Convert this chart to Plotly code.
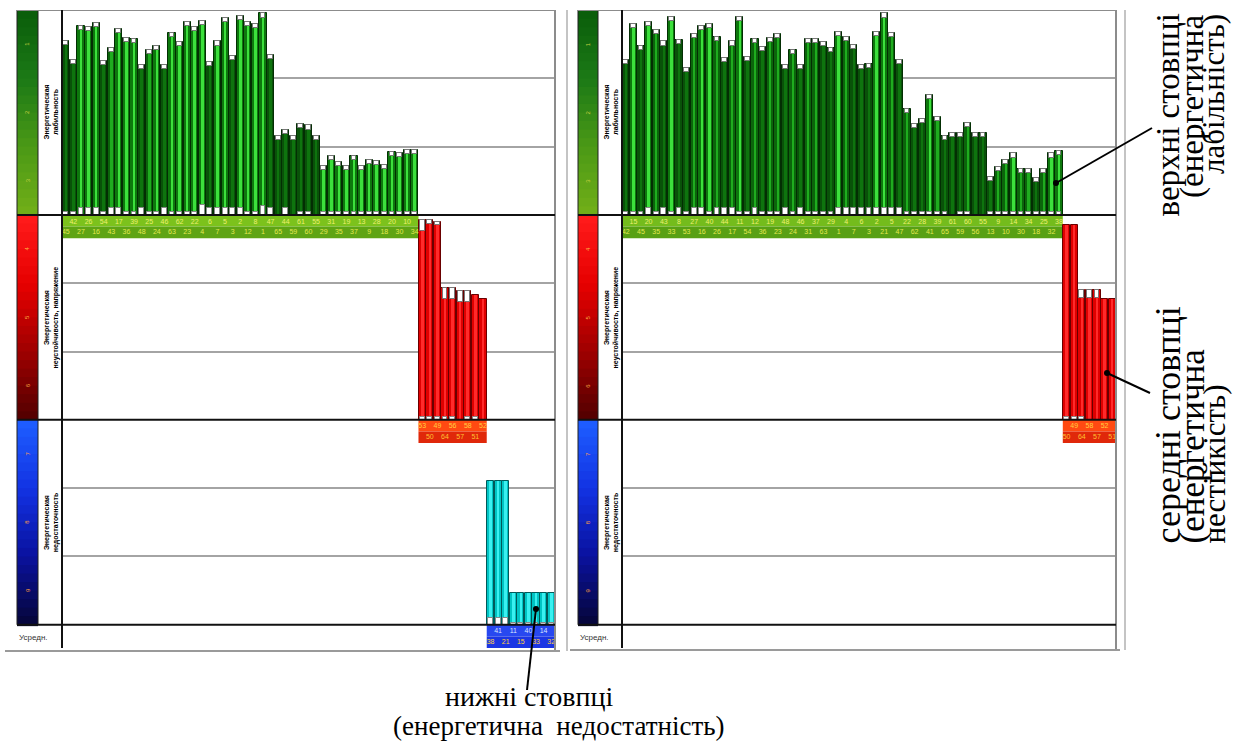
import plotly.graph_objects as go

W, H = 1233, 744

# ------------------------------------------------------------------ data
# left panel: bar heights (units, 0..3 inside each band)
left_green = [2.55, 2.27, 2.77, 2.75, 2.81, 2.26, 2.45, 2.72, 2.59, 2.58,
              2.20, 2.42, 2.47, 2.20, 2.66, 2.53, 2.82, 2.75, 2.84, 2.24,
              2.54, 2.89, 2.33, 2.91, 2.82, 2.79, 2.95, 2.34, 1.16, 1.24,
              1.15, 1.33, 1.31, 1.16, 0.72, 0.86, 0.77, 0.72, 0.86, 0.72,
              0.81, 0.79, 0.73, 0.92, 0.91, 0.95, 0.95]
left_green_tone = [0, 0, 2, 2, 2, 0, 1, 2, 2, 2, 0, 1, 2, 0, 2, 2, 2, 2, 2, 0,
                   2, 2, 0, 2, 2, 2, 2, 0, 0, 0, 0, 0, 0, 0, 2, 2, 2, 2, 2, 2,
                   2, 2, 2, 2, 2, 2, 2]
left_green_low = [0.04, 0.04, 0.10, 0.10, 0.10, 0.04, 0.10, 0.10, 0.04, 0.04,
                  0.10, 0.04, 0.04, 0.10, 0.04, 0.04, 0.04, 0.04, 0.14, 0.10,
                  0.10, 0.10, 0.10, 0.10, 0.04, 0.04, 0.13, 0.10, 0.00, 0.10,
                  0.00, 0.04, 0.04, 0.00, 0.04, 0.04, 0.04, 0.04, 0.04, 0.04,
                  0.04, 0.04, 0.04, 0.04, 0.04, 0.04, 0.04]
left_red = [2.92, 2.92, 2.90, 1.93, 1.93, 1.88, 1.88, 1.83, 1.77]
left_red_cap = [0.16, 0.05, 0.05, 0.16, 0.16, 0.15, 0.15, 0.0, 0.0]
left_red_low = [0.04, 0.04, 0.04, 0.04, 0.04, 0.0, 0.04, 0.04, 0.0]
left_blue = [2.10, 2.10, 2.10, 0.47, 0.47, 0.47, 0.47, 0.47, 0.47]
left_blue_low = [0.10, 0.10, 0.10, 0.03, 0.03, 0.03, 0.03, 0.03, 0.03]
left_ids = [45, 42, 27, 26, 16, 54, 43, 17, 36, 39, 48, 25, 24, 46, 63, 62,
            23, 22, 4, 6, 7, 5, 3, 2, 12, 8, 1, 47, 65, 44, 59, 61, 60, 55,
            29, 31, 35, 19, 37, 13, 9, 28, 18, 20, 30, 10, 34,
            53, 50, 49, 64, 56, 57, 58, 51, 52,
            38, 41, 21, 11, 15, 40, 33, 14, 32]

# right panel
right_green = [2.27, 2.80, 2.48, 2.83, 2.71, 2.54, 2.90, 2.56, 2.15, 2.65,
               2.76, 2.80, 2.60, 2.30, 2.54, 2.90, 2.31, 2.57, 2.46, 2.59,
               2.65, 2.20, 2.42, 2.20, 2.57, 2.57, 2.53, 2.45, 2.68, 2.60,
               2.49, 2.19, 2.21, 2.68, 2.95, 2.66, 2.27, 1.55, 1.33, 1.40,
               1.76, 1.44, 1.15, 1.20, 1.20, 1.35, 1.20, 1.20, 0.55, 0.70,
               0.81, 0.90, 0.67, 0.67, 0.54, 0.67, 0.90, 0.94]
right_green_tone = [0, 2, 0, 2, 1, 0, 2, 0, 0, 1, 2, 2, 1, 0, 1, 2, 0, 1, 0, 1,
                    1, 0, 1, 0, 1, 1, 0, 0, 2, 1, 0, 0, 0, 2, 2, 1, 0, 1, 0, 0,
                    2, 1, 0, 0, 0, 1, 0, 0, 0, 1, 1, 2, 1, 1, 0, 1, 2, 2]
right_green_low = [0.04, 0.04, 0.04, 0.10, 0.04, 0.10, 0.04, 0.10, 0.04, 0.10,
                   0.10, 0.04, 0.10, 0.10, 0.10, 0.04, 0.04, 0.10, 0.04, 0.04,
                   0.04, 0.10, 0.04, 0.10, 0.04, 0.04, 0.04, 0.04, 0.10, 0.10,
                   0.10, 0.10, 0.10, 0.10, 0.10, 0.10, 0.10, 0.04, 0.04, 0.04,
                   0.04, 0.04, 0.04, 0.00, 0.04, 0.04, 0.00, 0.00, 0.04, 0.04,
                   0.04, 0.04, 0.04, 0.04, 0.04, 0.04, 0.04, 0.04]
right_red = [2.85, 2.85, 1.90, 1.90, 1.90, 1.77, 1.77]
right_red_cap = [0.0, 0.0, 0.12, 0.12, 0.12, 0.0, 0.0]
right_red_low = [0.04, 0.04, 0.04, 0.0, 0.0, 0.0, 0.0]
right_ids = [42, 15, 45, 20, 35, 43, 33, 8, 53, 27, 16, 40, 26, 44, 17, 11,
             54, 12, 36, 19, 23, 48, 24, 46, 31, 37, 63, 29, 1, 4, 7, 6, 3, 2,
             21, 5, 47, 22, 62, 28, 41, 39, 65, 61, 59, 60, 56, 55, 13, 9, 10,
             14, 30, 34, 18, 25, 32, 38,
             50, 49, 64, 58, 57, 52, 51]

band_titles = ["Энергетическая<br>лабильность",
               "Энергетическая<br>неустойчивость, напряжение",
               "Энергетическая<br>недостаточность"]
band_marks = [["1", "2", "3"], ["4", "5", "6"], ["7", "8", "9"]]
avg_label = "Усредн."
note_top = ["верхні стовпці", "(енергетична", "лабільність)"]
note_mid = ["середні стовпці", "(енергетична", "нестійкість)"]
note_bottom = ["нижні стовпці", "(енергетична  недостатність)"]

# ------------------------------------------------------------------ helpers
def hx(h):
    h = h.lstrip('#')
    return tuple(int(h[i:i + 2], 16) for i in (0, 2, 4))


def mix(c1, c2, t):
    a, b = hx(c1), hx(c2)
    return 'rgb(%d,%d,%d)' % tuple(round(a[i] + (b[i] - a[i]) * t) for i in range(3))


def grad(stops, t):
    n = len(stops) - 1
    i = min(int(t * n), n - 1)
    return mix(stops[i], stops[i + 1], t * n - i)


def px(x):
    return x / W


def py(y):
    return 1 - y / H


GREEN_BODY = ["#095209", "#0b650b", "#0d780d"]
GREEN_STRIPE = ["#0e740e", "#1fac1f", "#3ce03c"]
GREEN_EDGE = "#032e03"
CAP = 0.06

fig = go.Figure()


def add_group(xa, ya, xs, vals, base, body, edge, stripe, caps, lows):
    common = dict(xaxis=xa, yaxis=ya, hoverinfo='skip', showlegend=False)
    fig.add_trace(go.Bar(x=xs, y=vals, base=base, width=0.94,
                         marker=dict(color=body, line=dict(color=edge, width=1)),
                         **common))
    fig.add_trace(go.Bar(x=xs, y=[v - c for v, c in zip(vals, caps)], base=base,
                         width=0.34, marker=dict(color=stripe, line=dict(width=0)),
                         **common))
    cx = [x for x, c in zip(xs, caps) if c > 0]
    cy = [c for c in caps if c > 0]
    cb = [base + v - c for v, c in zip(vals, caps) if c > 0]
    if cx:
        fig.add_trace(go.Bar(x=cx, y=cy, base=cb, width=0.64,
                             marker=dict(color='white', line=dict(color='#777777', width=1)),
                             **common))
    lx = [x for x, c in zip(xs, lows) if c > 0]
    ly = [c for c in lows if c > 0]
    if lx:
        fig.add_trace(go.Bar(x=lx, y=ly, base=base, width=0.64,
                             marker=dict(color='white', line=dict(color='#888888', width=1)),
                             **common))


def add_labels(xa, ya, xs, ids, base, top_col, bot_col):
    ys, cols = [], []
    for x in xs:
        if x % 2 == 1:
            ys.append(base - 0.1)
            cols.append(top_col)
        else:
            ys.append(base - 0.25)
            cols.append(bot_col)
    fig.add_trace(go.Scatter(x=xs, y=ys, mode='text', text=[str(i) for i in ids],
                             textfont=dict(size=7, color=cols, family='Liberation Sans'),
                             xaxis=xa, yaxis=ya, hoverinfo='skip', showlegend=False,
                             cliponaxis=False))


shapes = []
annotations = []

# ------------------------------------------------------------------ left panel bars
n1 = len(left_green)
n2 = len(left_red)
xg = list(range(n1))
xr = list(range(n1, n1 + n2))
xb = list(range(n1 + n2, n1 + n2 + len(left_blue)))
add_group('x', 'y', xg, left_green, 6, [GREEN_BODY[t] for t in left_green_tone], GREEN_EDGE,
          [GREEN_STRIPE[t] for t in left_green_tone], [CAP] * n1, left_green_low)
add_group('x', 'y', xr, left_red, 3, '#e00000', '#6a0000', '#ff2a2a', left_red_cap, left_red_low)
add_group('x', 'y', xb, left_blue, 0, '#00c4c4', '#005a5a', '#3af0f0', [0] * len(left_blue), left_blue_low)

# right panel bars
m1 = len(right_green)
m2 = len(right_red)
xg2 = list(range(m1))
xr2 = list(range(m1, m1 + m2))
add_group('x2', 'y2', xg2, right_green, 6, [GREEN_BODY[t] for t in right_green_tone], GREEN_EDGE,
          [GREEN_STRIPE[t] for t in right_green_tone], [CAP] * m1, right_green_low)
add_group('x2', 'y2', xr2, right_red, 3, '#e00000', '#6a0000', '#ff2a2a', right_red_cap, right_red_low)


# label strips (data coordinates)
def strip(xref, yref, x0, x1, base, top_c, bot_c):
    shapes.append(dict(type='rect', xref=xref, yref=yref, x0=x0, x1=x1, y0=base - 0.17, y1=base,
                       fillcolor=top_c, line=dict(width=0), layer='between'))
    shapes.append(dict(type='rect', xref=xref, yref=yref, x0=x0, x1=x1, y0=base - 0.34, y1=base - 0.17,
                       fillcolor=bot_c, line=dict(width=0), layer='between'))


strip('x', 'y', -0.5, n1 - 0.5, 6, '#7cc21c', '#5fa414')
strip('x', 'y', n1 - 0.5, n1 + n2 - 0.5, 3, '#ff4a12', '#e0280a')
strip('x', 'y', n1 + n2 - 0.5, 64.5, 0, '#2848f0', '#1c36e4')
strip('x2', 'y2', -0.5, m1 - 0.5, 6, '#74bc1c', '#58a014')
strip('x2', 'y2', m1 - 0.5, 64.5, 3, '#ff4a12', '#e0280a')

add_labels('x', 'y', xg, left_ids[:n1], 6, '#eef070', '#e4e850')
add_labels('x', 'y', xr, left_ids[n1:n1 + n2], 3, '#ffd040', '#ffc030')
add_labels('x', 'y', xb, left_ids[n1 + n2:], 0, '#d8e4ff', '#ffd040')
add_labels('x2', 'y2', xg2, right_ids[:m1], 6, '#eef070', '#e4e850')
add_labels('x2', 'y2', xr2, right_ids[m1:], 3, '#ffd040', '#ffc030')

# ------------------------------------------------------------------ frames, strips, titles
band_stops = [["#0b5e0b", "#1c7a16", "#4a9816", "#70ae18"],
              ["#ff1a1a", "#e60000", "#a00000", "#560000"],
              ["#1e5cff", "#1232e2", "#0a12a0", "#06063e"]]
mark_cols = ['#c8d040', '#ffb040', '#ffa040']

for (yref, sx0, sx1, plot_l, plot_r) in [('y', 17, 38, 62, 555), ('y2', 578, 598, 622, 1116)]:
    # colour strip gradients
    for bi, (top, stops) in enumerate(zip([9, 6, 3], band_stops)):
        N = 24
        for k in range(N):
            shapes.append(dict(type='rect', xref='paper', yref=yref,
                               x0=px(sx0), x1=px(sx1), y0=top - (k + 1) * 3 / N - 0.02, y1=top - k * 3 / N,
                               fillcolor=grad(stops, k / (N - 1)), line=dict(width=0), layer='above'))
        for j in range(3):
            annotations.append(dict(xref='paper', yref=yref, x=px((sx0 + sx1) / 2), y=top - 0.5 - j,
                                    xanchor='center', yanchor='middle',
                                    text=band_marks[bi][j], showarrow=False, textangle=-90,
                                    font=dict(size=6, color=mark_cols[bi], family='Liberation Sans')))
        annotations.append(dict(xref='paper', yref=yref, x=px((sx1 + plot_l) / 2 + 1), y=top - 1.5,
                                xanchor='center', yanchor='middle',
                                text='<b>' + band_titles[bi] + '</b>', showarrow=False, textangle=-90,
                                font=dict(size=7, color='#000000', family='Liberation Sans')))
    shapes.append(dict(type='rect', xref='paper', yref=yref, x0=px(sx0), x1=px(sx1), y0=0, y1=9,
                       line=dict(color='#202020', width=1), layer='above'))
    # outer frame
    shapes.append(dict(type='line', xref='paper', yref=yref, x0=px(sx0), x1=px(plot_r), y0=9, y1=9,
                       line=dict(color='#8c8c8c', width=2), layer='above'))
    shapes.append(dict(type='line', xref='paper', yref='paper', x0=px(plot_r), x1=px(plot_r),
                       y0=py(650), y1=py(10), line=dict(color='#8c8c8c', width=2), layer='above'))
    # band separators
    for yy in (0, 3, 6):
        shapes.append(dict(type='line', xref='paper', yref=yref, x0=px(sx0), x1=px(plot_r), y0=yy, y1=yy,
                           line=dict(color='#111111', width=2), layer='above'))
    # plot left border
    shapes.append(dict(type='line', xref='paper', yref='paper', x0=px(plot_l), x1=px(plot_l),
                       y0=py(648), y1=py(10), line=dict(color='#111111', width=2), layer='above'))
    annotations.append(dict(xref='paper', yref='paper', x=px(sx0), y=py(637), xanchor='left',
                            yanchor='middle', text=avg_label, showarrow=False,
                            font=dict(size=8, color='#333333', family='Liberation Sans')))

# bottom grey lines / separators
shapes.append(dict(type='line', xref='paper', yref='paper', x0=px(5), x1=px(560), y0=py(651), y1=py(651),
                   line=dict(color='#9a9a9a', width=2)))
shapes.append(dict(type='line', xref='paper', yref='paper', x0=px(570), x1=px(1120), y0=py(650), y1=py(650),
                   line=dict(color='#9a9a9a', width=2)))
shapes.append(dict(type='line', xref='paper', yref='paper', x0=px(567), x1=px(567), y0=py(651), y1=py(10),
                   line=dict(color='#c4c4c4', width=2)))
shapes.append(dict(type='line', xref='paper', yref='paper', x0=px(1125), x1=px(1125), y0=py(650), y1=py(10),
                   line=dict(color='#c4c4c4', width=2)))

# ------------------------------------------------------------------ notes + leader lines
SERIF = 'Liberation Serif'
for t, xx, sz in zip(note_top, [1168, 1193, 1214], [33, 33, 31]):
    annotations.append(dict(xref='paper', yref='paper', x=px(xx), y=py(12), xanchor='center', yanchor='top',
                            text=t, showarrow=False, textangle=-90,
                            font=dict(size=sz, color='black', family=SERIF)))
for t, xx, sz in zip(note_mid, [1167, 1192, 1214], [36, 35, 31]):
    annotations.append(dict(xref='paper', yref='paper', x=px(xx), y=py(546), xanchor='center', yanchor='bottom',
                            text=t, showarrow=False, textangle=-90,
                            font=dict(size=sz, color='black', family=SERIF)))
annotations.append(dict(xref='paper', yref='paper', x=px(529), y=py(696), xanchor='center', yanchor='middle',
                        text=note_bottom[0], showarrow=False, font=dict(size=28, color='black', family=SERIF)))
annotations.append(dict(xref='paper', yref='paper', x=px(559), y=py(726), xanchor='center', yanchor='middle',
                        text=note_bottom[1], showarrow=False, font=dict(size=27, color='black', family=SERIF)))

for (x0, y0, x1, y1) in [(1056, 183, 1152, 128), (1107, 373, 1150, 393), (536, 609, 527, 690)]:
    shapes.append(dict(type='line', xref='paper', yref='paper', x0=px(x0), y0=py(y0), x1=px(x1), y1=py(y1),
                       line=dict(color='black', width=2), layer='above'))
    shapes.append(dict(type='circle', xref='paper', yref='paper', x0=px(x0 - 3), x1=px(x0 + 3),
                       y0=py(y0 + 3), y1=py(y0 - 3), fillcolor='black', line=dict(width=0), layer='above'))

axis_y = dict(domain=[py(648), py(10)], range=[-0.34, 9], tickvals=[1, 2, 4, 5, 7, 8],
              showgrid=True, gridcolor='#a4a4a4', gridwidth=2, showticklabels=False,
              zeroline=False, ticks='', showline=False, fixedrange=True)
fig.update_layout(
    width=W, height=H, margin=dict(l=0, r=0, t=0, b=0),
    paper_bgcolor='white', plot_bgcolor='white',
    barmode='overlay', bargap=0, showlegend=False,
    xaxis=dict(domain=[px(62), px(555)], range=[-0.5, 64.5], visible=False, fixedrange=True),
    xaxis2=dict(domain=[px(622), px(1116)], range=[-0.5, 64.5], visible=False, fixedrange=True, anchor='y2'),
    yaxis=axis_y,
    yaxis2=dict(axis_y, anchor='x2'),
    shapes=shapes, annotations=annotations,
)

fig.write_html("out.html", config={'displayModeBar': False},
               post_script="document.body.style.margin='0';document.body.style.overflow='hidden';")
